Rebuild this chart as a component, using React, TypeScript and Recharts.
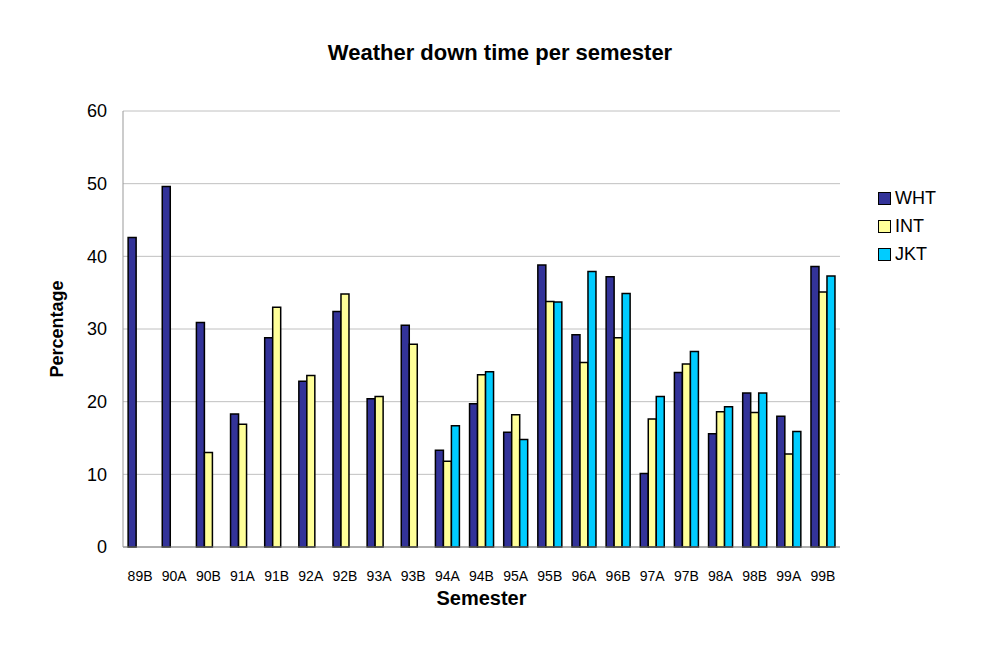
import { Bar, BarChart, CartesianGrid, XAxis, YAxis } from "recharts";

const SEMESTERS = [
	"89B", "90A", "90B", "91A", "91B", "92A", "92B", "93A", "93B", "94A", "94B",
	"95A", "95B", "96A", "96B", "97A", "97B", "98A", "98B", "99A", "99B",
];

const WHT = [
	42.6, 49.6, 30.9, 18.3, 28.8, 22.8, 32.4, 20.4, 30.5, 13.3, 19.7,
	15.8, 38.8, 29.2, 37.2, 10.1, 24.0, 15.6, 21.2, 18.0, 38.6,
];
const INT = [
	null, null, 13.0, 16.9, 33.0, 23.6, 34.8, 20.7, 27.9, 11.8, 23.7,
	18.2, 33.8, 25.4, 28.8, 17.6, 25.2, 18.6, 18.5, 12.8, 35.1,
];
const JKT = [
	null, null, null, null, null, null, null, null, null, 16.7, 24.1,
	14.8, 33.7, 37.9, 34.9, 20.7, 26.9, 19.3, 21.2, 15.9, 37.3,
];

const Y_TICKS = [0, 10, 20, 30, 40, 50, 60];

const SERIES = [
	{ key: "WHT", color: "#333399" },
	{ key: "INT", color: "#FFFF99" },
	{ key: "JKT", color: "#00CCFF" },
];

const data = SEMESTERS.map((s, i) => ({ semester: s, WHT: WHT[i], INT: INT[i], JKT: JKT[i] }));

const FONT = "Arial, 'Liberation Sans', Helvetica, sans-serif";

function LegendBox() {
	return (
		<div style={{ position: "absolute", top: 184, left: 878, fontFamily: FONT }}>
			{SERIES.map((s) => (
				<div key={s.key} style={{ display: "flex", alignItems: "center", height: 28, fontSize: 18, color: "#000" }}>
					<span
						style={{
							width: 11,
							height: 11,
							background: s.color,
							border: "1px solid #000",
							marginRight: 4,
							display: "inline-block",
						}}
					/>
					{s.key}
				</div>
			))}
		</div>
	);
}

export default function App() {
	return (
		<div style={{ position: "absolute", left: 0, top: 0, width: 1000, height: 670, background: "#fff", fontFamily: FONT }}>
			<div
				style={{
					position: "absolute",
					top: 40,
					left: 0,
					width: 1000,
					textAlign: "center",
					fontSize: 22,
					fontWeight: "bold",
				}}
			>
				Weather down time per semester
			</div>
			<BarChart
				width={1000}
				height={670}
				data={data}
				margin={{ top: 111, right: 160, bottom: 63, left: 0 }}
				barCategoryGap="15%"
				barGap={0}
			>
				<CartesianGrid vertical={false} stroke="#c0c0c0" />
				<XAxis
					dataKey="semester"
					height={60}
					stroke="#808080"
					tickLine={false}
					tickMargin={18}
					tick={{ fontSize: 14, fill: "#000" }}
					interval={0}
					label={{ value: "Semester", position: "insideBottom", offset: 2, fontSize: 20, fontWeight: "bold", fill: "#000" }}
				/>
				<YAxis
					width={123}
					domain={[0, 60]}
					ticks={Y_TICKS}
					stroke="#999"
					tickLine={false}
					tickMargin={10}
					tick={{ fontSize: 18, fill: "#000" }}
					label={{
						value: "Percentage",
						angle: -90,
						position: "insideLeft",
						offset: 57,
						style: { textAnchor: "middle" },
						fontSize: 18,
						fontWeight: "bold",
						fill: "#000",
					}}
				/>
				<YAxis yAxisId="r" orientation="right" width={0} tick={false} tickLine={false} stroke="#c0c0c0" />
				{SERIES.map((s) => (
					<Bar
						key={s.key}
						dataKey={s.key}
						fill={s.color}
						stroke="#000"
						strokeWidth={1.5}
						isAnimationActive={false}
					/>
				))}
			</BarChart>
			<LegendBox />
		</div>
	);
}
